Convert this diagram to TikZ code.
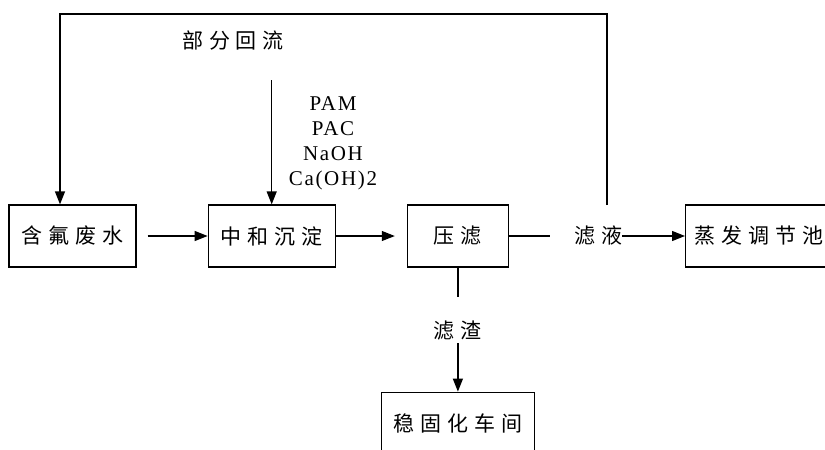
\documentclass[tikz,border=0pt]{standalone}
\usepackage{fontspec}
\setmainfont{Liberation Serif}[LetterSpace=8]
\newfontfamily\cjk{Noto Sans CJK SC}[LetterSpace=28]
\usetikzlibrary{arrows.meta,positioning,calc}
\tikzset{
    unitbox/.style={draw, line width=1.2pt, minimum width=127pt, minimum height=62pt, inner sep=0pt, font=\cjk\fontsize{21}{24}\selectfont},
    tag/.style={inner sep=0pt, font=\cjk\fontsize{21}{24}\selectfont},
    flowline/.style={line width=1.2pt},
    flowarrow/.style={-{Triangle[length=13pt, width=10pt]}, line width=1.2pt}
}
\begin{document}
\begin{tikzpicture}[node distance=71pt]
    \useasboundingbox (0,0) rectangle (825pt,-450pt);
    \node[unitbox] (waste) at (72.5pt,-236pt) {含氟废水};
    \node[unitbox, right=of waste] (neutral) {中和沉淀};
    \node[unitbox, right=of neutral, minimum width=101pt] (press) {压滤};
    \node[unitbox, right=176pt of press, minimum width=147pt] (evap) {蒸发调节池};
    \node[unitbox, below=124pt of press, minimum width=153pt] (solid) {稳固化车间};

    \node[tag] (reflux) at (233pt,-41pt) {部分回流};
    \node[align=center, inner sep=0pt, font=\fontsize{21}{25}\selectfont] (dose) at (333pt,-143pt) {PAM\\PAC\\NaOH\\Ca(OH)2};
    \node[tag, right=65pt of press] (filtrate) {滤液};
    \node[tag, below=53pt of press] (residue) {滤渣};
    \coordinate[above=124pt of neutral.north] (feed);
    \coordinate (ret) at (607pt,-205pt);
    \coordinate (loop) at (60pt,-14pt);

    \draw[flowarrow, shorten <=11pt] (waste) -- (neutral);
    \draw[flowarrow, shorten >=12pt] (neutral) -- (press);
    \draw[flowline, shorten >=24pt] (press) -- (filtrate);
    \draw[flowarrow] (filtrate) -- (evap);
    \draw[flowline, shorten >=24pt] (press) -- (residue);
    \draw[flowarrow, shorten <=3pt] (residue) -- (solid);
    \draw[flowarrow] (feed) -- (neutral.north);
    \draw[flowarrow] (ret) |- (loop) -- (loop |- waste.north);
\end{tikzpicture}
\end{document}
